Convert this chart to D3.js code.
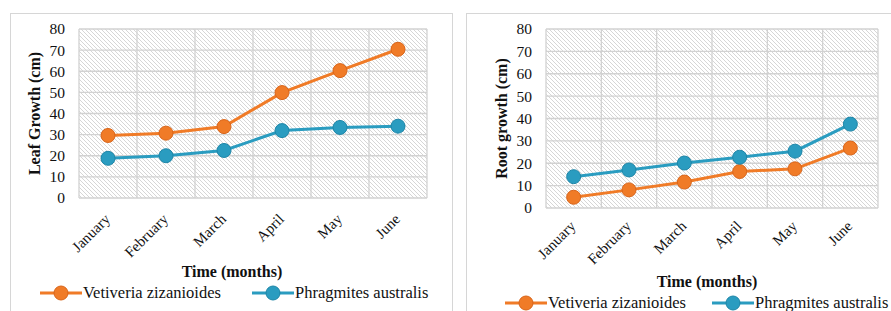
<!DOCTYPE html>
<html><head><meta charset="utf-8">
<script src="https://cdn.jsdelivr.net/npm/d3@7"></script>
<style>body{margin:0;background:#fff}svg{display:block}
svg text{font-family:"Liberation Serif","Times New Roman",serif;}</style>
</head><body>
<svg id="c" width="891" height="311"></svg>
<script>
const months = ["January","February","March","April","May","June"];
const yTicks = [0,10,20,30,40,50,60,70,80];
const seriesNames = ["Vetiveria zizanioides","Phragmites australis"];
const seriesColors = ["#F07B27","#2A9CC0"];
const seriesStroke = ["#D9651A","#1E86A8"];
const leafVetiveria = [29.6, 30.7, 33.8, 49.9, 60.3, 70.4];
const leafPhragmites = [18.8, 20.0, 22.5, 31.9, 33.4, 34.0];
const rootVetiveria = [4.8, 8.1, 11.6, 16.3, 17.5, 26.8];
const rootPhragmites = [14.0, 17.0, 20.1, 22.7, 25.4, 37.5];

const SERIF = '"Liberation Serif","Times New Roman",serif';
const svg = d3.select("#c");
const defs = svg.append("defs");
const pat = defs.append("pattern").attr("id","hatch").attr("patternUnits","userSpaceOnUse")
  .attr("width",4).attr("height",4);
pat.append("rect").attr("width",4).attr("height",4).attr("fill","#fff");
pat.append("path").attr("d","M-1,-1 L5,5 M-1,3 L1,5 M3,-1 L5,1")
  .attr("stroke","#cbcbcb").attr("stroke-width",0.8);

// panel frames
svg.append("rect").attr("x",10.5).attr("y",13.5).attr("width",442).attr("height",320)
  .attr("fill","none").attr("stroke","#d6d6d6");
svg.append("rect").attr("x",466.5).attr("y",13.5).attr("width",440).attr("height",320)
  .attr("fill","none").attr("stroke","#d6d6d6");

function chart(cfg){
  const g = svg.append("g");
  const x = d3.scaleBand().domain(months).range([cfg.x0,cfg.x1]);
  const y = d3.scaleLinear().domain([0,80]).range([cfg.y0,cfg.y1]);
  g.append("rect").attr("x",cfg.x0).attr("y",cfg.y1).attr("width",cfg.x1-cfg.x0)
    .attr("height",cfg.y0-cfg.y1).attr("fill","url(#hatch)");
  // grid
  g.selectAll(".hg").data(yTicks).join("line")
    .attr("x1",cfg.x0).attr("x2",cfg.x1).attr("y1",d=>y(d)).attr("y2",d=>y(d))
    .attr("stroke","#d2d2d2").attr("stroke-width",1.3);
  const bounds = months.map(m=>x(m)).concat([cfg.x1]);
  g.selectAll(".vg").data(bounds).join("line")
    .attr("x1",d=>d).attr("x2",d=>d).attr("y1",cfg.y1).attr("y2",cfg.y0)
    .attr("stroke","#d2d2d2").attr("stroke-width",1.3);
  // y axis labels
  const ya = d3.axisLeft(y).tickValues(yTicks).tickSize(0).tickPadding(0);
  const yg = g.append("g").attr("transform",`translate(${cfg.yLabX},0)`).call(ya);
  yg.attr("font-family",SERIF).attr("font-size",15);
  yg.select(".domain").remove();
  yg.selectAll("text").style("font-family",SERIF).style("font-size","15.5px").attr("fill","#111");
  // x axis labels
  const xa = d3.axisBottom(x).tickSize(0).tickPadding(0);
  const xg = g.append("g").attr("transform",`translate(0,${cfg.y0})`).call(xa);
  xg.attr("font-family",SERIF).attr("font-size",15);
  xg.select(".domain").remove();
  xg.selectAll("text").style("font-family",SERIF).style("font-size","15px").attr("fill","#111")
    .attr("text-anchor","end").attr("dy",0).attr("y",0)
    .attr("transform",`translate(3,${cfg.xLabDY}) rotate(-45)`);
  // titles
  g.append("text").attr("transform",`translate(${cfg.yTitleX},${(cfg.y0+cfg.y1)/2}) rotate(-90)`)
    .attr("text-anchor","middle").style("font-family",SERIF).attr("font-weight","bold")
    .style("font-size","16px").attr("fill","#111").text(cfg.yTitle);
  g.append("text").attr("x",cfg.xTitleX).attr("y",cfg.xTitleY).attr("text-anchor","middle")
    .style("font-family",SERIF).attr("font-weight","bold").style("font-size","16px")
    .attr("fill","#111").text("Time (months)");
  // series
  const line = d3.line().x((d,i)=>x(months[i])+x.bandwidth()/2).y(d=>y(d));
  cfg.series.forEach((s,k)=>{
    g.append("path").datum(s).attr("d",line).attr("fill","none")
      .attr("stroke",seriesColors[k]).attr("stroke-width",3);
    g.selectAll(null).data(s).join("circle")
      .attr("cx",(d,i)=>x(months[i])+x.bandwidth()/2).attr("cy",d=>y(d)).attr("r",7)
      .attr("fill",seriesColors[k]).attr("stroke",seriesStroke[k]).attr("stroke-width",1);
  });
  // legend
  cfg.legend.forEach((lx,k)=>{
    const lg = g.append("g").attr("transform",`translate(${lx},${cfg.legY})`);
    lg.append("line").attr("x1",0).attr("x2",42).attr("stroke",seriesColors[k]).attr("stroke-width",3);
    lg.append("circle").attr("cx",21).attr("r",7).attr("fill",seriesColors[k])
      .attr("stroke",seriesStroke[k]).attr("stroke-width",1);
    lg.append("text").attr("x",43).attr("y",5).style("font-family",SERIF)
      .style("font-size","16.5px").attr("fill","#111").text(seriesNames[k]);
  });
}

chart({x0:79,x1:427,y0:198,y1:29,yLabX:65,xLabDY:22,yTitleX:40,yTitle:"Leaf Growth (cm)",
  xTitleX:232,xTitleY:277,series:[leafVetiveria,leafPhragmites],legend:[40,252],legY:293});
chart({x0:546,x1:878,y0:208,y1:29,yLabX:532,xLabDY:19,yTitleX:507,yTitle:"Root growth (cm)",
  xTitleX:707,xTitleY:287,series:[rootVetiveria,rootPhragmites],legend:[505,712],legY:303});
</script>
</body></html>
